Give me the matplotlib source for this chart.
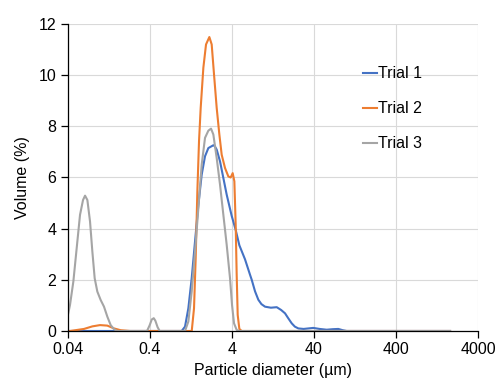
import matplotlib
matplotlib.use("Agg")
import matplotlib.pyplot as plt
from matplotlib.ticker import FixedLocator, FixedFormatter, NullLocator

plt.rcParams['font.family'] = ['Liberation Sans', 'DejaVu Sans']

# Trial 1 (blue)
t1_x = [0.04, 0.983, 1.0795, 1.1854, 1.3016, 1.4291, 1.5691, 1.7229, 1.8916, 2.077,
        2.3895, 2.4575, 2.624, 2.8807, 3.163, 3.4728, 3.9959, 4.47, 4.9542, 5.8078,
        6.68, 7.01, 7.69, 8.44, 9.2, 10.18, 12.0, 14.13, 16.0, 17.84, 19.5, 21.5, 23.5,
        25.9, 30.0, 39.4, 47.0, 57.4, 68.0, 79.5, 90.0, 100.6, 1824]
t1_y = [0.0, 0.0, 0.17, 0.89, 2.06, 3.5, 4.93, 6.11, 6.83, 7.15,
        7.26, 7.25, 7.09, 6.63, 5.98, 5.33, 4.5, 3.95, 3.35, 2.8,
        2.2, 2.0, 1.55, 1.22, 1.05, 0.95, 0.91, 0.93, 0.82, 0.69, 0.5, 0.3, 0.17,
        0.1, 0.08, 0.12, 0.08, 0.05, 0.07, 0.08, 0.03, 0.0, 0.0]

# Trial 2 (orange)
t2_x = [0.04, 0.0429, 0.0635, 0.0803, 0.0995, 0.1222, 0.1474, 0.1777, 0.231, 1.303,
        1.3895, 1.4559, 1.5257, 1.5987, 1.6751, 1.8053, 1.9454, 2.1361, 2.2804, 2.4344,
        2.624, 2.8275, 3.0186, 3.3143, 3.639, 3.8852, 4.1097, 4.3062, 4.47, 4.5972,
        4.7282, 4.9542, 5.2888, 1824]
t2_y = [0.0, 0.0, 0.08, 0.18, 0.23, 0.21, 0.1, 0.03, 0.0, 0.0,
        0.89, 2.85, 5.46, 7.42, 8.72, 10.29, 11.2, 11.49, 11.2, 10.03,
        8.72, 7.68, 6.89, 6.37, 6.04, 6.0, 6.17, 5.85, 4.15, 2.19,
        0.63, 0.08, 0.0, 0.0]

# Trial 3 (grey)
t3_x = [0.04, 0.0429, 0.0471, 0.0517, 0.0568, 0.0618, 0.0654, 0.0698, 0.0752, 0.0803,
        0.0857, 0.0923, 0.1014, 0.1113, 0.1222, 0.1342, 0.1474, 0.1618, 0.372, 0.40,
        0.425, 0.449, 0.47, 0.50, 0.53, 1.0795, 1.1854, 1.3016, 1.4291, 1.5691,
        1.7229, 1.8916, 2.077, 2.2382, 2.3895, 2.624, 2.8807, 3.163, 3.4728, 3.8133,
        4.0337, 4.2657, 4.5972, 4.9542, 1824]
t3_y = [0.55, 1.02, 1.93, 3.23, 4.54, 5.12, 5.29, 5.12, 4.28, 3.1,
        2.06, 1.54, 1.21, 0.95, 0.56, 0.23, 0.07, 0.0, 0.0, 0.22,
        0.45, 0.5, 0.4, 0.15, 0.0, 0.0, 0.37, 1.54, 3.1, 4.8,
        6.5, 7.55, 7.83, 7.91, 7.68, 6.76, 5.72, 4.54, 3.37, 2.06,
        1.02, 0.3, 0.04, 0.0, 0.0]

x_ticks = [0.04, 0.4, 4, 40, 400, 4000]
x_tick_labels = ["0.04", "0.4", "4", "40", "400", "4000"]
y_ticks = [0, 2, 4, 6, 8, 10, 12]

fig = plt.figure(figsize=(4.99, 3.85), dpi=100)
ax = fig.add_axes([0.1353, 0.1403, 0.958 - 0.1353, 0.9377 - 0.1403])

ax.plot(t1_x, t1_y, color='#4472C4', lw=1.5, label='Trial 1', solid_joinstyle='round')
ax.plot(t2_x, t2_y, color='#ED7D31', lw=1.5, label='Trial 2', solid_joinstyle='round')
ax.plot(t3_x, t3_y, color='#A5A5A5', lw=1.5, label='Trial 3', solid_joinstyle='round')

ax.set_xscale('log')
ax.set_xlim(0.04, 4000)
ax.set_ylim(0, 12)
ax.xaxis.set_major_locator(FixedLocator(x_ticks))
ax.xaxis.set_major_formatter(FixedFormatter(x_tick_labels))
ax.xaxis.set_minor_locator(NullLocator())
ax.set_yticks(y_ticks)

ax.grid(True, color='#d9d9d9', lw=0.8)
ax.set_axisbelow(True)
for s in ['top', 'right']:
    ax.spines[s].set_visible(False)
for s in ['left', 'bottom']:
    ax.spines[s].set_color('black')
    ax.spines[s].set_linewidth(0.9)

ax.tick_params(axis='both', direction='out', length=5, width=0.9, labelsize=11.5,
               colors='black', pad=3)

ax.set_xlabel('Particle diameter (µm)', fontsize=11.5, labelpad=4)
ax.set_ylabel('Volume (%)', fontsize=11.5, labelpad=6)

leg = ax.legend(loc='upper left', bbox_to_anchor=(0.705, 0.883), frameon=False,
                fontsize=11.5, handlelength=0.85, handletextpad=0.1, labelspacing=1.25,
                borderaxespad=0)

fig.savefig('out.png', dpi=100)
